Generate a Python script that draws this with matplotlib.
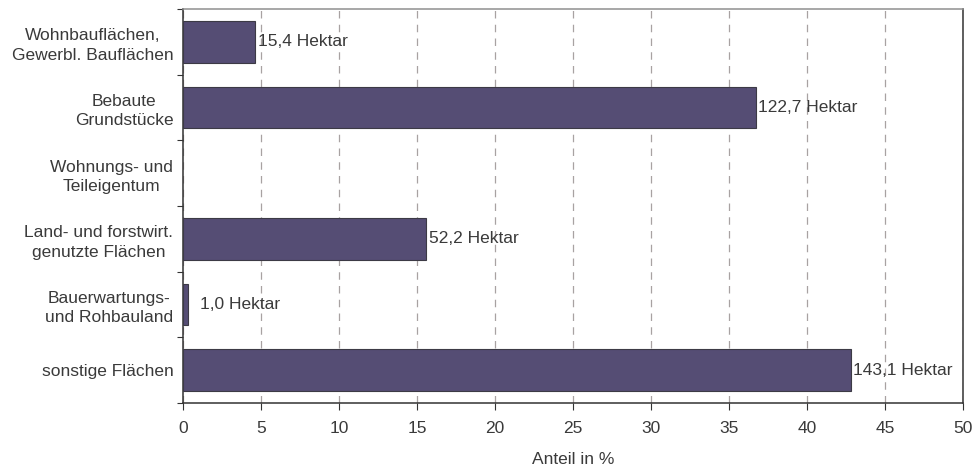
import matplotlib
matplotlib.use("Agg")
import matplotlib.pyplot as plt
import numpy as np

plt.rcParams['font.family'] = ['Liberation Sans', 'DejaVu Sans']

categories = ["Wohnbauflächen,\nGewerbl. Bauflächen", "Bebaute\nGrundstücke",
              "Wohnungs- und\nTeileigentum", "Land- und forstwirt.\ngenutzte Flächen",
              "Bauerwartungs-\nund Rohbauland", "sonstige Flächen"]
percent = [4.6, 36.7, 0.0, 15.6, 0.3, 42.8]
labels = ["15,4 Hektar", "122,7 Hektar", "", "52,2 Hektar", "1,0 Hektar", "143,1 Hektar"]
xticks = [0, 5, 10, 15, 20, 25, 30, 35, 40, 45, 50]

txt = '#3a3a3a'
fs = 12.5
fig = plt.figure(figsize=(9.73, 4.66), dpi=100)
ax = fig.add_axes([183/973, 1-403/466, (963-183)/973, (403-9)/466])

y = np.arange(len(categories))
lw = [0.8 if v > 0 else 0 for v in percent]
ax.barh(y, percent, height=0.63, color='#554d74', edgecolor='#3c3a45', linewidth=lw, zorder=3)
for yi, v, lab in zip(y, percent, labels):
    if lab:
        ax.annotate(lab, (max(v, 0.9), yi), xytext=(2, 0), textcoords='offset points',
                    va='center', ha='left', fontsize=fs, color=txt, zorder=4)

ax.set_xlim(0, 50)
ax.set_ylim(len(categories)-0.5, -0.5)
ax.set_xticks(xticks)
ax.set_xticklabels([str(t) for t in xticks])
ax.set_yticks(np.arange(len(categories)+1) - 0.5)
ax.set_yticklabels([])
ax.set_yticks(y, minor=True)
ax.set_yticklabels(categories, minor=True, fontsize=fs, color=txt, ha='right',
                   multialignment='center', linespacing=1.35)
ax.tick_params(axis='y', which='minor', length=0, pad=7)
ax.tick_params(axis='y', which='major', length=4.5, direction='out', color='#333333')
ax.tick_params(axis='x', length=5, direction='out', color='#333333', labelsize=fs, labelcolor=txt, pad=8)
ax.set_xlabel('Anteil in %', fontsize=fs, color=txt, labelpad=11.5)

ax.xaxis.grid(True, linestyle=(0, (6, 5)), color='#a8a2a2', linewidth=0.9, zorder=0)
ax.set_axisbelow(True)
for s in ['left', 'bottom', 'right']:
    ax.spines[s].set_color('#333333')
    ax.spines[s].set_linewidth(1.1)
ax.spines['top'].set_color('#909090')
ax.spines['top'].set_linewidth(1.1)

fig.savefig('out.png', dpi=100)
